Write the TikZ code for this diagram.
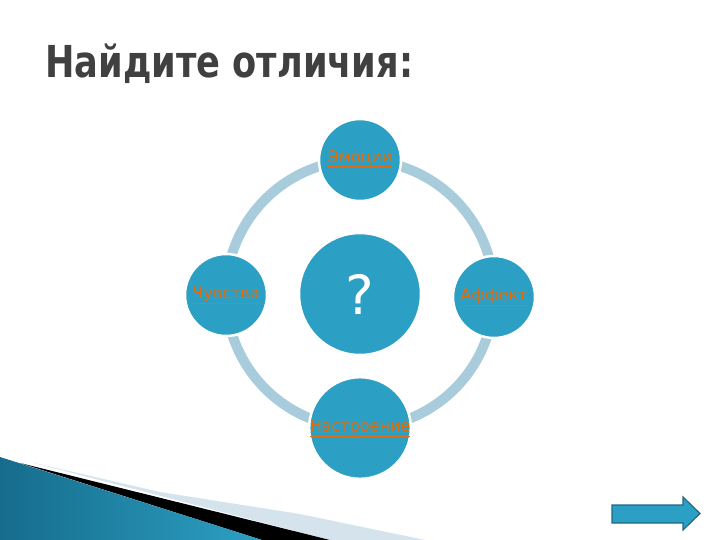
\documentclass[tikz,border=0pt]{standalone}
\usepackage{fontspec}
\setmainfont{DejaVu Sans}
\usetikzlibrary{positioning}
\definecolor{circblue}{RGB}{44,160,196}
\definecolor{ringblue}{RGB}{168,204,220}
\definecolor{linkorange}{RGB}{228,108,10}
\definecolor{titlegray}{RGB}{64,64,64}
\definecolor{wedgedark}{RGB}{22,108,140}
\definecolor{wedgelight}{RGB}{84,184,218}
\definecolor{bandlight}{RGB}{213,228,236}
\definecolor{navedge}{RGB}{30,104,134}

\begin{document}
\begin{tikzpicture}[x=1pt,y=-1pt]
	\tikzset{bubble/.style = {shape=circle,fill=circblue,draw=white,line width=2.5pt,minimum size=82pt,inner sep=0pt,text=linkorange,font=\fontsize{16}{18}\selectfont}}
	\tikzset{ring/.style = {draw=ringblue,line width=10pt}}
	\useasboundingbox (0,0) rectangle (720,540);
	% title
	\node[anchor=base west,text=titlegray,inner sep=0pt,font=\fontsize{44}{50}\selectfont\bfseries] (title) at (45,78) {\scalebox{0.8}[1]{Найдите отличия:}};
	% ring
	\coordinate (mid) at (360,294);
	\draw[ring] (mid) circle[radius=134];
	% vertices
	\node[bubble,minimum size=122pt,text=white,font=\fontsize{54}{60}\selectfont] (q) at (mid) {?};
	\node[bubble] (emo) at (360,160) {\raisebox{6pt}{\underline{Эмоции}}};
	\node[bubble] (chuv) at (226,295) {\underline{Чувства}};
	\node[bubble] (aff) at (494,297) {\underline{Аффект}};
	\node[bubble] (nastr) at (360,428) {\underline{Настроение}};
	% corner
	\fill[bandlight] (30,462) -- (160,492) -- (300,514) -- (425,540) -- (330,540) -- cycle;
	\fill[black] (20,463) -- (330,540) -- (262,540) -- cycle;
	\shade[left color=wedgedark,middle color=wedgelight,right color=circblue] (0,457) -- (262,540) -- (0,540) -- cycle;
	% next button
	\filldraw[fill=circblue,draw=navedge,line width=1.2pt] (612,505) -- (683,505) -- (683,497) -- (700,513.5) -- (683,530) -- (683,523) -- (612,523) -- cycle;
\end{tikzpicture}
\end{document}
